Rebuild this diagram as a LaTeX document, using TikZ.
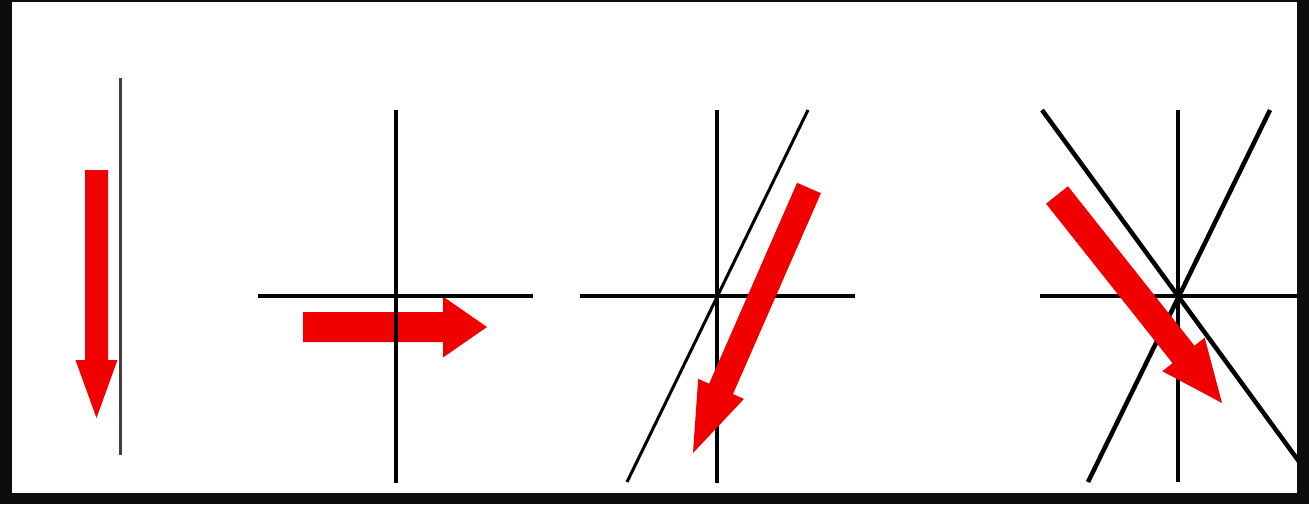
\documentclass[tikz,border=0pt]{standalone}
\usetikzlibrary{calc}

% red block arrow: tail, tip, half shaft, half head, head length
\newcommand{\redarrow}[5]{%
  \coordinate (neck) at ($(#2)!#5!(#1)$);
  \fill[arrowred] ($(#1)!#3!90:(#2)$) -- ($(neck)!#3!90:(#2)$) -- ($(neck)!#4!90:(#2)$) -- (#2)
    -- ($(neck)!#4!-90:(#2)$) -- ($(neck)!#3!-90:(#2)$) -- ($(#1)!#3!-90:(#2)$) -- cycle;
}

\begin{document}
\begin{tikzpicture}[
    x=1pt,y=-1pt,
    arrowred/.style={fill={rgb,255:red,240;green,0;blue,0}},
    axis/.style={draw=black, line width=4.5pt},
    thinaxis/.style={draw=black, line width=3pt},
    grayaxis/.style={draw=black!75, line width=3pt}
]

    % --- Frame ---
    \fill[black!95] (0,0) rectangle (1309,504);
    \fill[white] (12,2) rectangle (1297,493);

    \begin{scope}
    \clip (12,2) rectangle (1297,493);

    \coordinate (tailA) at (96.5,170);  \coordinate (tipA) at (96.5,418);
    \coordinate (tailB) at (303,327);   \coordinate (tipB) at (487,327);
    \coordinate (tailC) at (809,188);   \coordinate (tipC) at (693,453);
    \coordinate (tailD) at (1057,195);  \coordinate (tipD) at (1222,403);

    % --- One line ---
    \redarrow{tailA}{tipA}{11.5pt}{21pt}{58pt}
    \draw[grayaxis] (120,78) -- (120,455);

    % --- Two lines ---
    \redarrow{tailB}{tipB}{15pt}{30.5pt}{44pt}
    \draw[axis] (396,110) -- (396,483);
    \draw[axis] (258,296) -- (533,296);

    % --- Three lines ---
    \draw[axis, line width=4pt] (717,110) -- (717,483);
    \draw[axis, line width=4pt] (580,296) -- (855,296);
    \draw[thinaxis] (808,110) -- (627,482);
    \redarrow{tailC}{tipC}{13pt}{25pt}{70pt}

    % --- Four lines ---
    \draw[axis] (1178,110) -- (1178,482);
    \draw[axis] (1040,296) -- (1310,296);
    \draw[axis] (1270,110) -- (1088,482);
    \draw[axis] (1042,110) -- (1314,482);
    \redarrow{tailD}{tipD}{14pt}{27pt}{62pt}
    \end{scope}

\end{tikzpicture}
\end{document}
